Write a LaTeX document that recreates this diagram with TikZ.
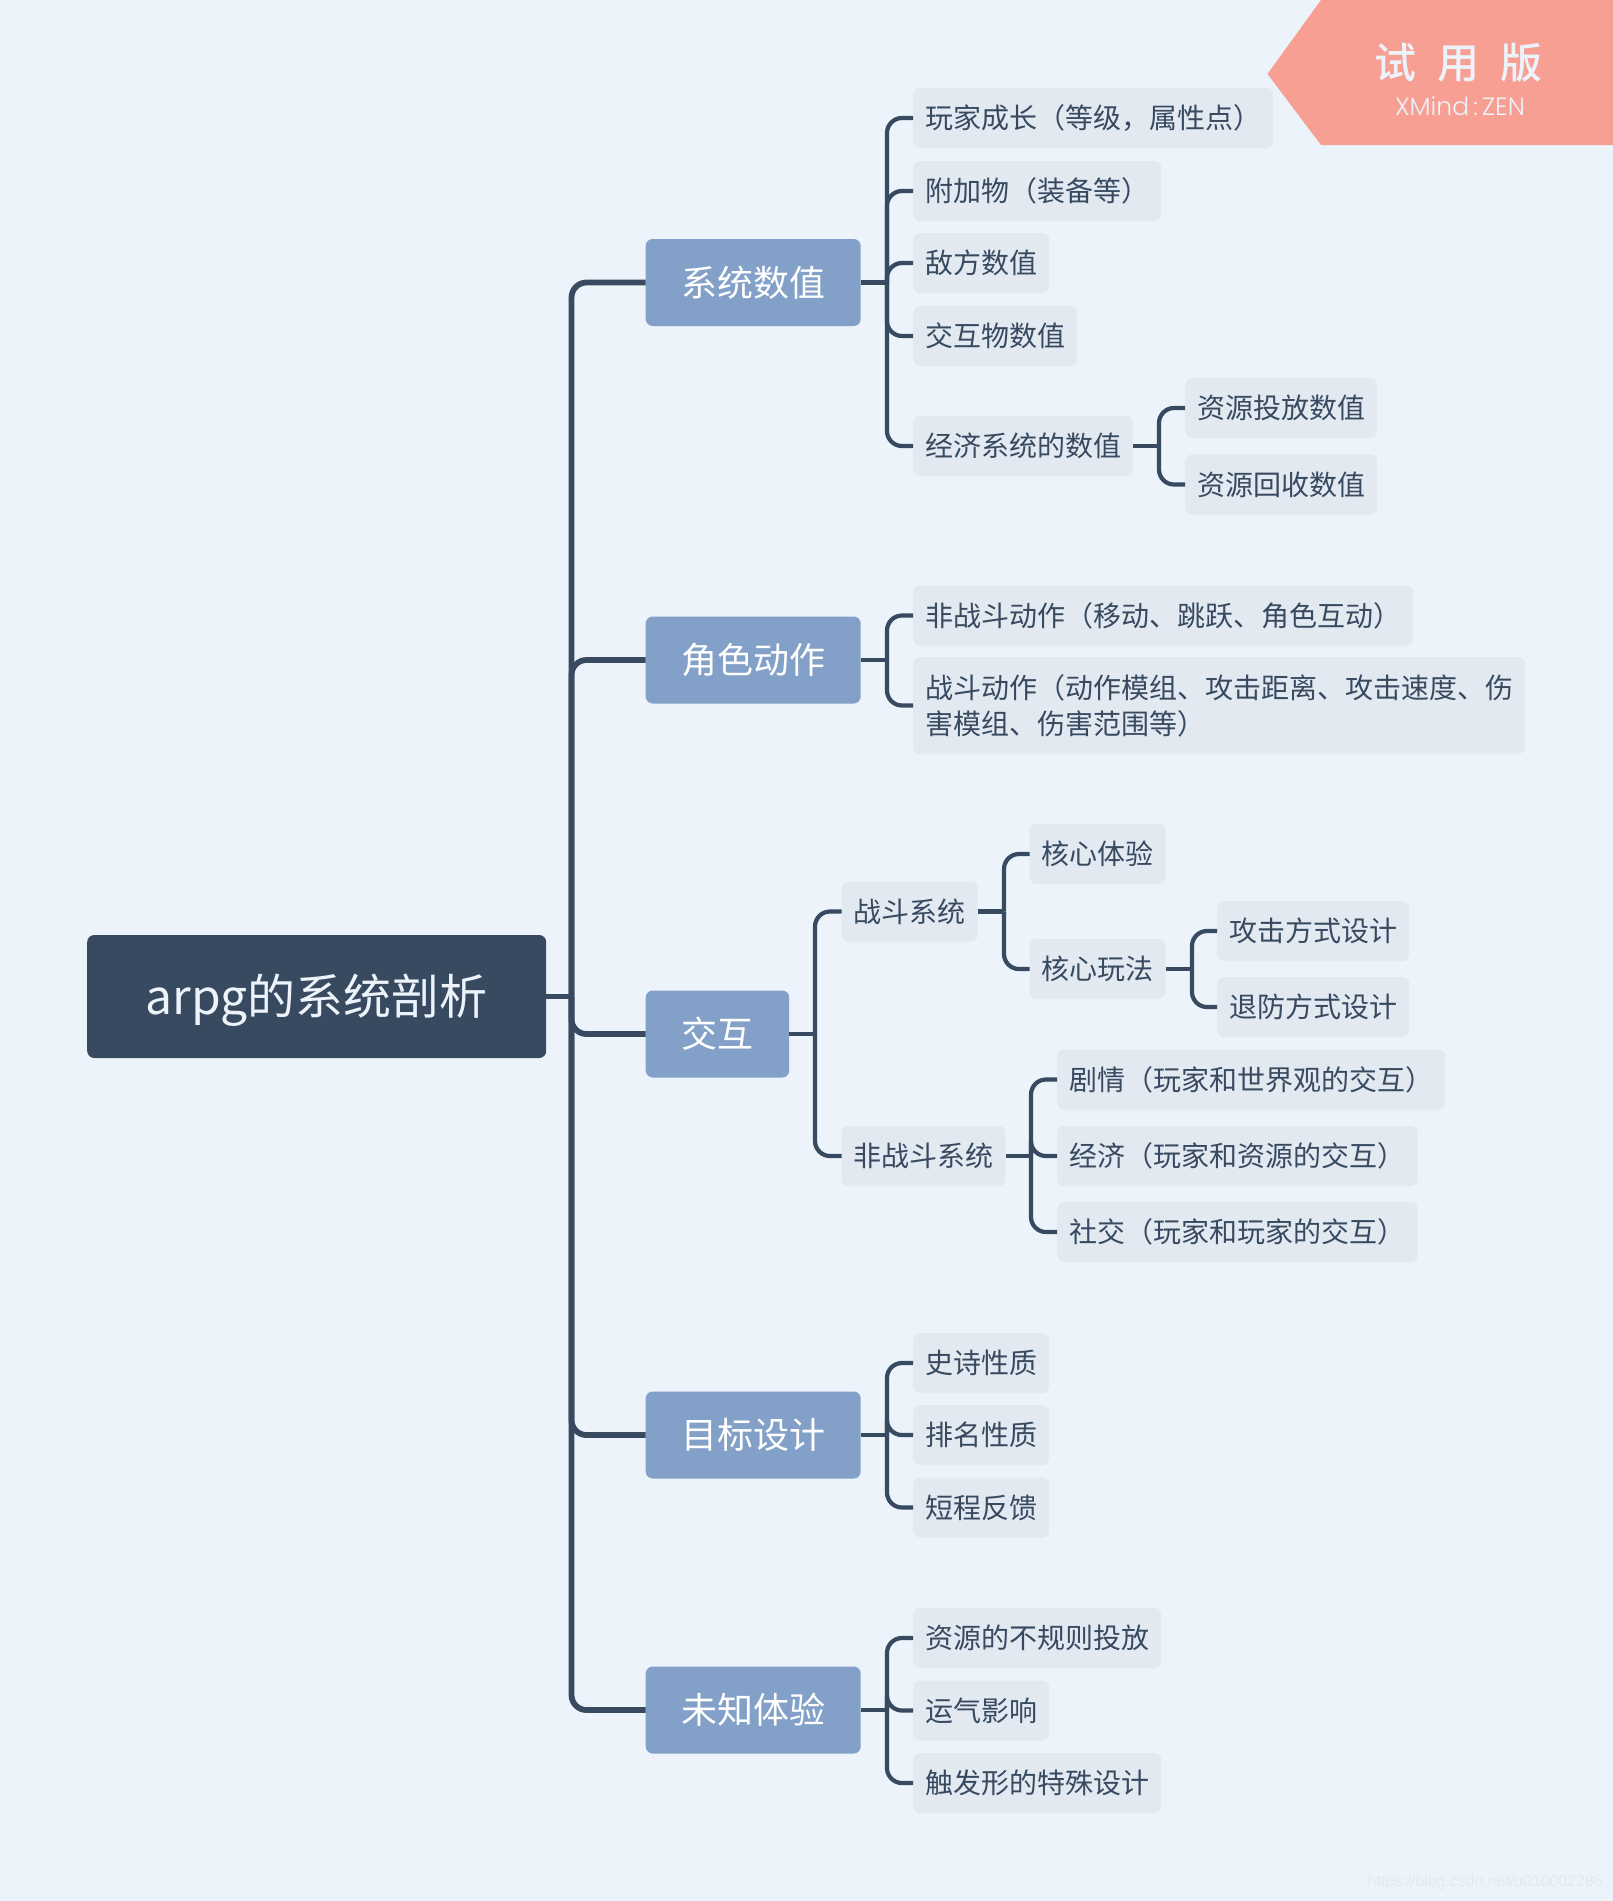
\documentclass[tikz,border=0pt]{standalone}
\usepackage{fontspec}
\setmainfont{Noto Sans CJK SC}
\newfontfamily\wmfont{Liberation Sans}
\newfontfamily\xmfont{Poppins Light}
\newfontfamily\bannerfont{Noto Sans CJK SC Medium}
\definecolor{bgc}{HTML}{ECF3FA}
\definecolor{dark}{HTML}{374A60}
\definecolor{midc}{HTML}{82A0C8}
\definecolor{leafc}{HTML}{E2E9F1}
\definecolor{banner}{HTML}{F79F93}
\definecolor{wm}{HTML}{E3E9F0}
\tikzset{
  rootbox/.style={fill=dark,text=bgc,rounded corners=7pt,inner sep=0pt,minimum height=123pt,anchor=west,
    font=\fontsize{48}{58}\selectfont,text height=42.2pt,text depth=5.8pt},
  midbox/.style={fill=midc,text=white,rounded corners=7pt,inner sep=0pt,minimum height=87pt,anchor=west,
    font=\fontsize{36}{44}\selectfont,text height=31.7pt,text depth=4.3pt},
  leaf/.style={fill=leafc,text=dark,rounded corners=7pt,inner sep=0pt,minimum height=60pt,anchor=west,
    font=\fontsize{28}{36}\selectfont,text height=24.6pt,text depth=3.4pt},
  leaftwo/.style={fill=leafc,text=dark,rounded corners=7pt,inner sep=0pt,minimum height=97pt,anchor=west,
    font=\fontsize{28}{36}\selectfont,align=left},
  thick main/.style={draw=dark,line width=5.8pt},
  thin main/.style={draw=dark,line width=4.2pt},
}
\newcommand{\linkto}[4]{%
  \draw[#1] (#2.east) -- (#3 |- #2.east);
  \draw[#1,rounded corners=15pt] (#3 |- #2.east) -- (#3 |- #4.west) -- (#4.west);
}
\begin{document}
\begin{tikzpicture}[x=1pt,y=-1pt]
\useasboundingbox (0,0) rectangle (1613,1901);
\fill[bgc] (0,0) rectangle (1613,1901);
% banner
\fill[banner] (1321,0) -- (1267.5,74) -- (1321,145) -- (1613,145) -- (1613,0) -- cycle;
\node[text=bgc,inner sep=0pt,font=\fontsize{42}{50}\selectfont\bannerfont] (bannertitle) at (1458,63) {试\hspace{21pt}用\hspace{21pt}版};
\node[text=bgc,inner sep=0pt,font=\fontsize{25}{30}\selectfont\xmfont] (bannersub) at (1460,106) {XMind\,:\,ZEN};
% bus positions
\coordinate (busA) at (571.5,0);
\coordinate (busB) at (887,0);
\coordinate (busC) at (1159,0);
\coordinate (busD) at (815,0);
\coordinate (busE) at (1004,0);
\coordinate (busF) at (1192,0);
\coordinate (busG) at (1031,0);
% root
\node[rootbox,minimum width=459pt] (root) at (87,996.5) {arpg的系统剖析};
% branches
\node[midbox,minimum width=215pt] (m1) at (645.5,282.5) {系统数值};
\node[midbox,minimum width=215pt] (m2) at (645.5,660) {角色动作};
\node[midbox,minimum width=143.5pt] (m3) at (645.5,1034) {交互};
\node[midbox,minimum width=215pt] (m4) at (645.5,1435) {目标设计};
\node[midbox,minimum width=215pt] (m5) at (645.5,1710) {未知体验};
% group 1
\node[leaf,minimum width=360pt] (a1) at (913,118) {玩家成长（等级，属性点）};
\node[leaf,minimum width=248pt] (a2) at (913,191) {附加物（装备等）};
\node[leaf,minimum width=136pt] (a3) at (913,263) {敌方数值};
\node[leaf,minimum width=164pt] (a4) at (913,336) {交互物数值};
\node[leaf,minimum width=220pt] (a5) at (913,446) {经济系统的数值};
\node[leaf,minimum width=192pt] (a6) at (1185,408) {资源投放数值};
\node[leaf,minimum width=192pt] (a7) at (1185,484.5) {资源回收数值};
% group 2
\node[leaf,minimum width=500pt] (b1) at (913,615.5) {非战斗动作（移动、跳跃、角色互动）};
\node[leaftwo,minimum width=612pt] (b2) at (913,705.5) {战斗动作（动作模组、攻击距离、攻击速度、伤\\害模组、伤害范围等）};
% group 3
\node[leaf,minimum width=136pt] (c1) at (841.5,911.5) {战斗系统};
\node[leaf,minimum width=164pt] (c2) at (841.5,1156) {非战斗系统};
\node[leaf,minimum width=136pt] (c3) at (1029.5,854) {核心体验};
\node[leaf,minimum width=136pt] (c4) at (1029.5,969) {核心玩法};
\node[leaf,minimum width=192pt] (c5) at (1217,931) {攻击方式设计};
\node[leaf,minimum width=192pt] (c6) at (1217,1007) {退防方式设计};
\node[leaf,minimum width=388pt] (c7) at (1057,1079.5) {剧情（玩家和世界观的交互）};
\node[leaf,minimum width=360.5pt] (c8) at (1057,1156) {经济（玩家和资源的交互）};
\node[leaf,minimum width=360.5pt] (c9) at (1057,1232) {社交（玩家和玩家的交互）};
% group 4
\node[leaf,minimum width=136pt] (d1) at (913,1363) {史诗性质};
\node[leaf,minimum width=136pt] (d2) at (913,1435) {排名性质};
\node[leaf,minimum width=136pt] (d3) at (913,1507.5) {短程反馈};
% group 5
\node[leaf,minimum width=248pt] (e1) at (913,1638) {资源的不规则投放};
\node[leaf,minimum width=136pt] (e2) at (913,1710.5) {运气影响};
\node[leaf,minimum width=248pt] (e3) at (913,1783) {触发形的特殊设计};
% connectors
\linkto{thick main}{root}{busA}{m1}
\linkto{thick main}{root}{busA}{m2}
\linkto{thick main}{root}{busA}{m3}
\linkto{thick main}{root}{busA}{m4}
\linkto{thick main}{root}{busA}{m5}
\linkto{thin main}{m1}{busB}{a1}
\linkto{thin main}{m1}{busB}{a2}
\linkto{thin main}{m1}{busB}{a3}
\linkto{thin main}{m1}{busB}{a4}
\linkto{thin main}{m1}{busB}{a5}
\linkto{thin main}{a5}{busC}{a6}
\linkto{thin main}{a5}{busC}{a7}
\linkto{thin main}{m2}{busB}{b1}
\linkto{thin main}{m2}{busB}{b2}
\linkto{thin main}{m3}{busD}{c1}
\linkto{thin main}{m3}{busD}{c2}
\linkto{thin main}{c1}{busE}{c3}
\linkto{thin main}{c1}{busE}{c4}
\linkto{thin main}{c4}{busF}{c5}
\linkto{thin main}{c4}{busF}{c6}
\linkto{thin main}{c2}{busG}{c7}
\linkto{thin main}{c2}{busG}{c8}
\linkto{thin main}{c2}{busG}{c9}
\linkto{thin main}{m4}{busB}{d1}
\linkto{thin main}{m4}{busB}{d2}
\linkto{thin main}{m4}{busB}{d3}
\linkto{thin main}{m5}{busB}{e1}
\linkto{thin main}{m5}{busB}{e2}
\linkto{thin main}{m5}{busB}{e3}
% watermark
\node[text=wm,inner sep=0pt,anchor=east,font=\fontsize{15.9}{20}\selectfont\wmfont] (watermark) at (1603,1882) {https://blog.csdn.net/u010002286};
\end{tikzpicture}
\end{document}
